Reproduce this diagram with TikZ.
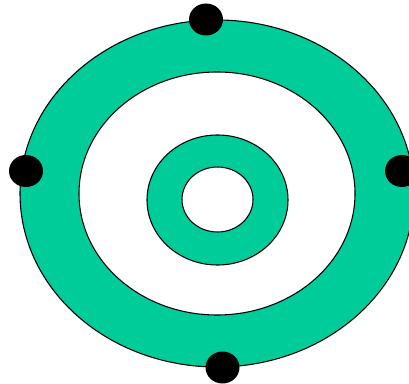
\documentclass[tikz,border=0pt]{standalone}
\usepackage{xcolor}
\usepackage{tikz}
\definecolor{ringgreen}{RGB}{0, 204, 153}

\begin{document}
\begin{tikzpicture}[
    x=0.75pt, y=-0.75pt,
    ring/.style={draw=black, line width=0.8pt, fill=#1},
    dot/.style={fill=black}
]
    \useasboundingbox (0,0) rectangle (409,384);
    % rings, outside in
    \draw[ring=ringgreen] (217,193.5) ellipse [x radius=197, y radius=173.5];
    \draw[ring=white] (217,193.5) ellipse [x radius=138, y radius=121.5];
    \draw[ring=ringgreen] (217.5,200) ellipse [x radius=70.5, y radius=65];
    \draw[ring=white] (217.5,199.5) ellipse [x radius=35.5, y radius=32.5];
    % dots on the outer ring
    \fill[dot] (206,19.5) ellipse [x radius=17, y radius=16];
    \fill[dot] (26,171) ellipse [x radius=17, y radius=16];
    \fill[dot] (402,171) ellipse [x radius=17, y radius=16];
    \fill[dot] (222.5,367.5) ellipse [x radius=17, y radius=16];
\end{tikzpicture}
\end{document}
